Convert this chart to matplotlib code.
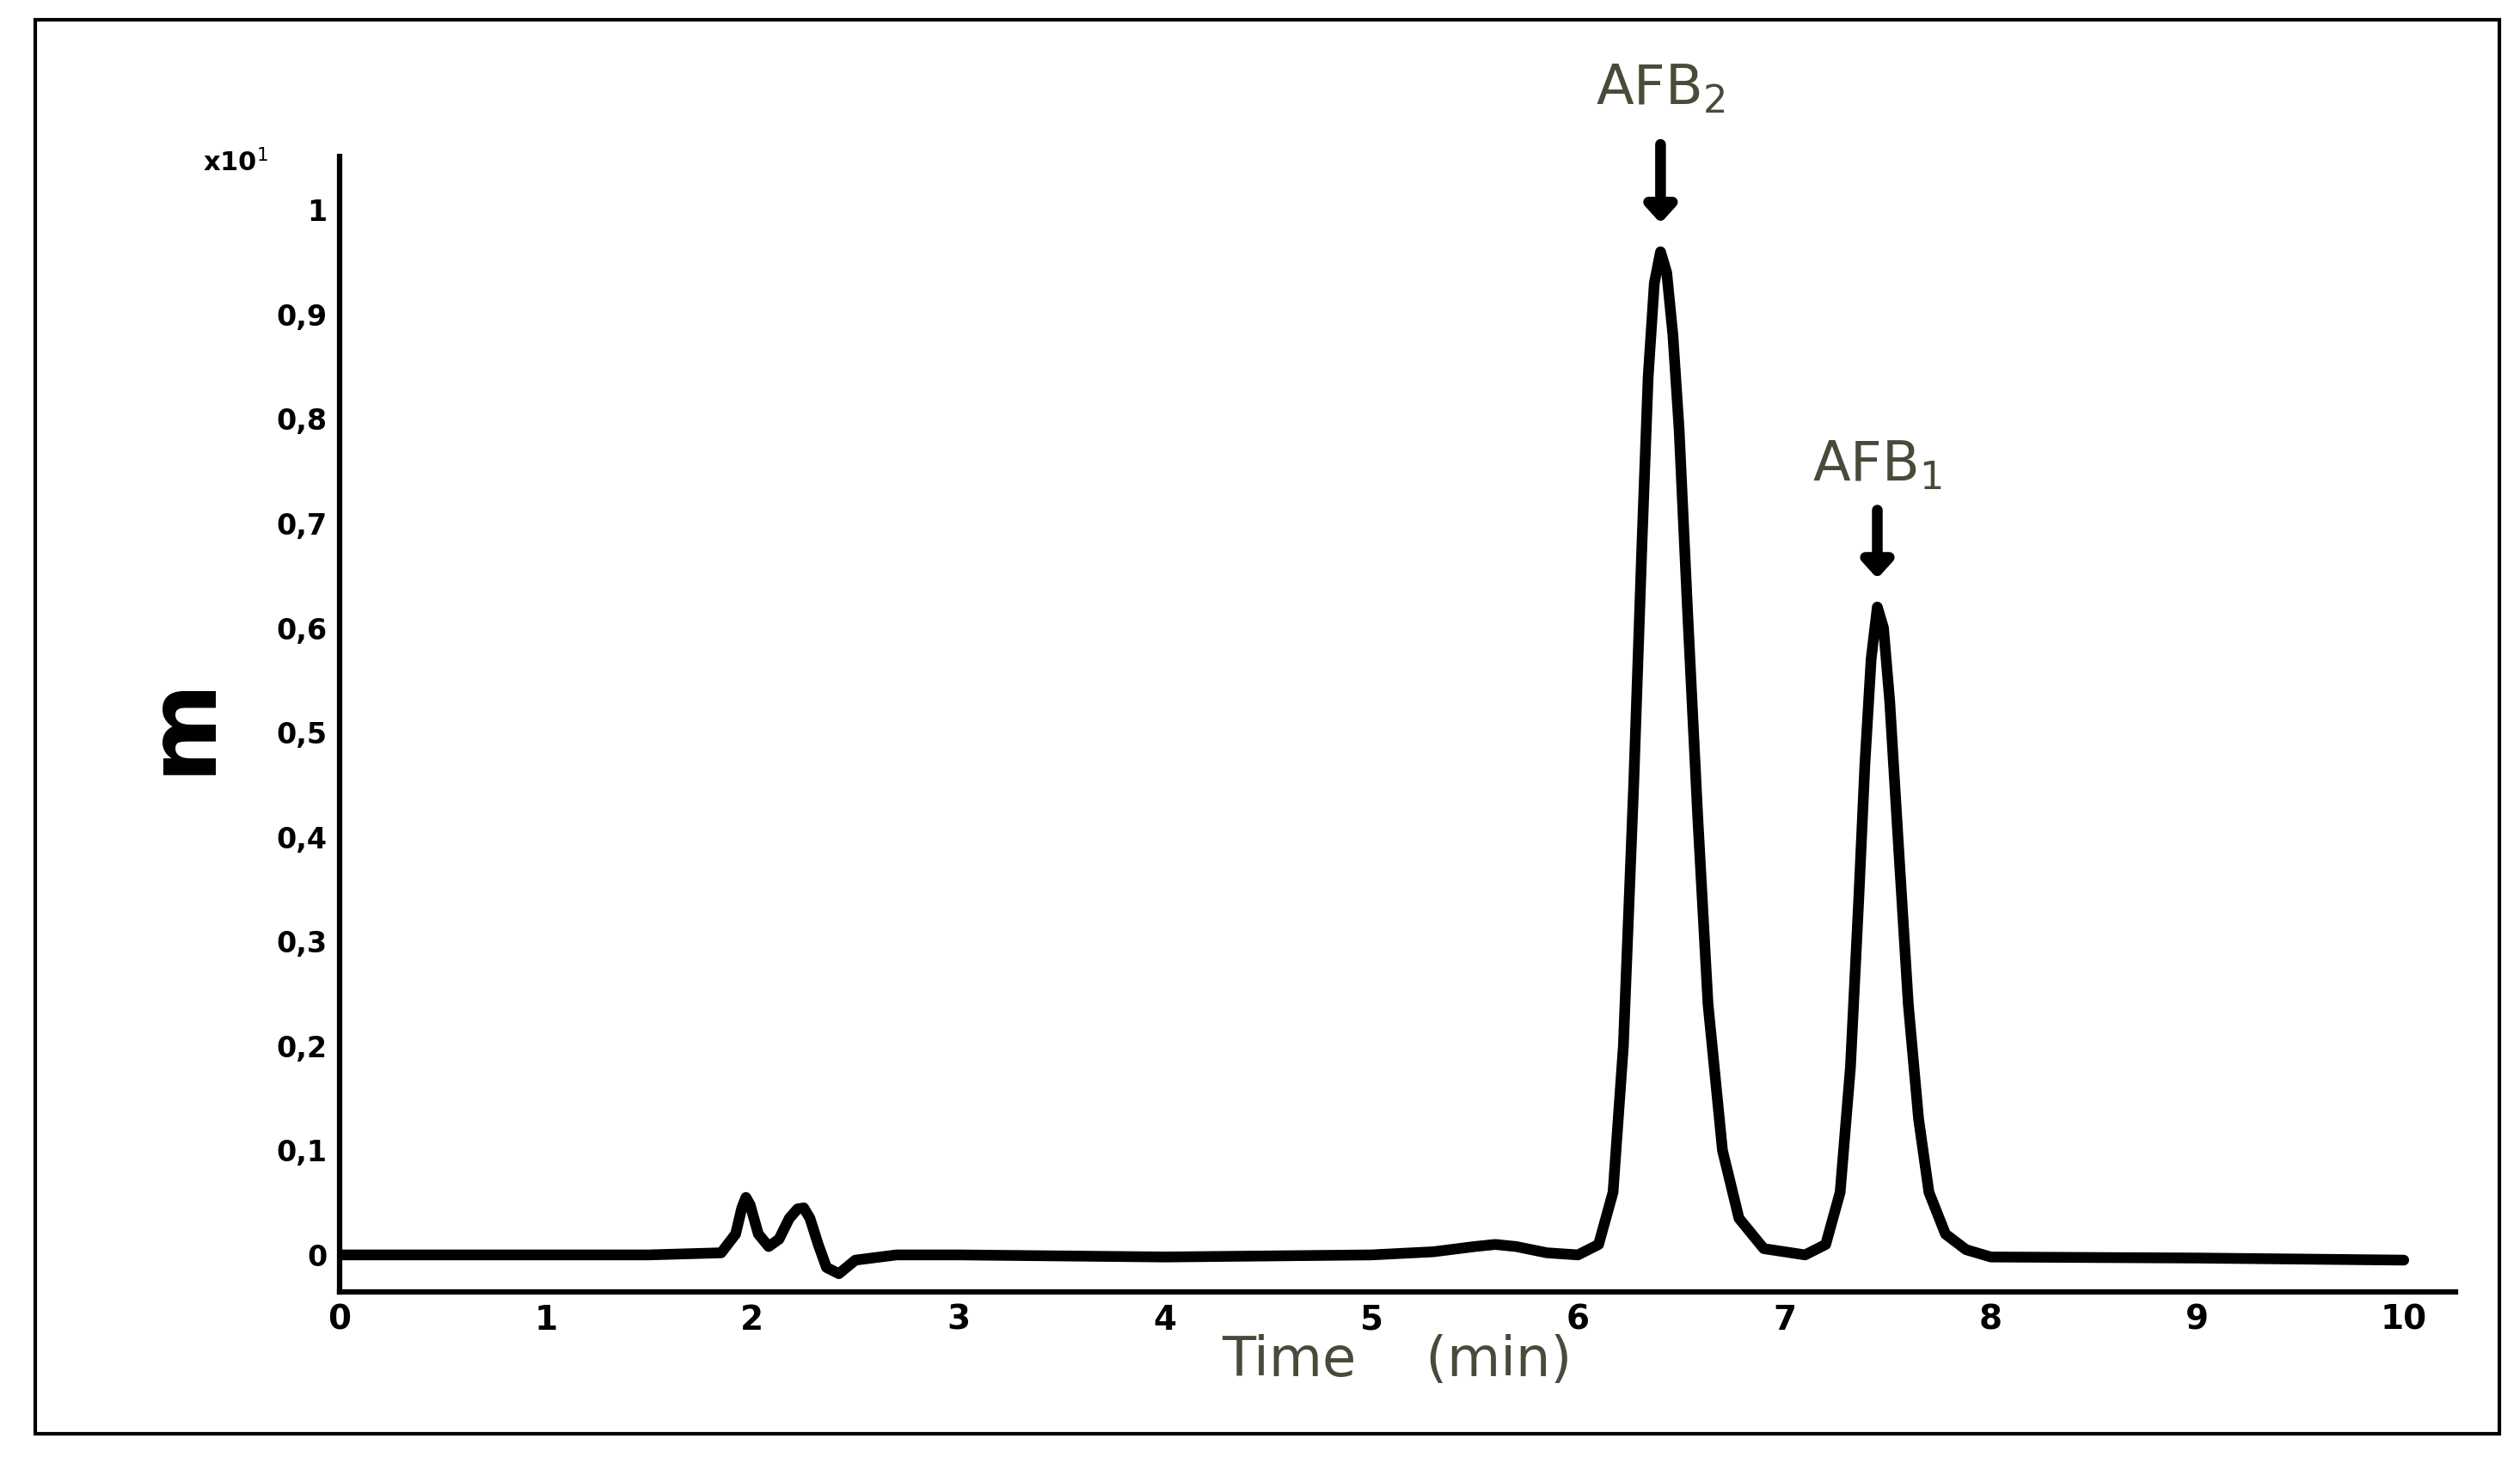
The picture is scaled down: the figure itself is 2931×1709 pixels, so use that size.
import matplotlib
matplotlib.use("Agg")
import matplotlib.pyplot as plt
from matplotlib.patches import Rectangle

time = [0.0, 0.5, 1.0, 1.5, 1.85, 1.92, 1.95, 1.97, 1.99, 2.03, 2.08, 2.13, 2.18, 2.22, 2.25, 2.28, 2.32, 2.36, 2.42, 2.5, 2.7, 3.0,
        4.0, 5.0, 5.3, 5.5, 5.6, 5.7, 5.85, 6.0, 6.1, 6.17, 6.22, 6.27, 6.31, 6.34, 6.37, 6.4, 6.43, 6.46, 6.49, 6.53,
        6.58, 6.63, 6.7, 6.78, 6.9, 7.1, 7.2, 7.27, 7.32, 7.36, 7.39, 7.42, 7.45, 7.48, 7.51, 7.55, 7.6, 7.65, 7.7,
        7.78, 7.88, 8.0, 9.0, 10.0]
signal = [0.0, 0.0, 0.0, 0.0, 0.002, 0.02, 0.045, 0.055, 0.048, 0.02, 0.008, 0.015, 0.035, 0.044, 0.045, 0.035, 0.01, -0.012, -0.018, -0.005, 0.0, 0.0,
          -0.002, 0.0, 0.003, 0.008, 0.01, 0.008, 0.002, 0.0, 0.01, 0.06, 0.2, 0.45, 0.68, 0.84, 0.93, 0.96, 0.94, 0.88, 0.79, 0.62,
          0.42, 0.24, 0.1, 0.035, 0.006, 0.0, 0.01, 0.06, 0.18, 0.34, 0.47, 0.57, 0.62, 0.6, 0.53, 0.4, 0.24, 0.13, 0.06,
          0.02, 0.005, -0.002, -0.003, -0.005]
yticks = [0, 0.1, 0.2, 0.3, 0.4, 0.5, 0.6, 0.7, 0.8, 0.9, 1.0]
ytick_labels = ["0", "0,1", "0,2", "0,3", "0,4", "0,5", "0,6", "0,7", "0,8", "0,9", "1"]
xticks = list(range(11))

fig = plt.figure(figsize=(29.31, 17.09), dpi=100)
fig.patches.append(Rectangle((22/1560, 1-888/909.6), (1547-22)/1560, (888-12)/909.6,
                             transform=fig.transFigure, fill=False, lw=3, ec="black"))
ax = fig.add_axes([210/1560, 1-800/909.6, (1520-210)/1560, (800-97)/909.6])
ax.plot(time, signal, color="black", lw=9, solid_joinstyle="round", solid_capstyle="round")
ax.set_xlim(0, 10.25)
ax.set_ylim(-0.0355, 1.051)
for s in ["top", "right"]:
    ax.spines[s].set_visible(False)
for s in ["left", "bottom"]:
    ax.spines[s].set_linewidth(4.5)
ax.set_yticks(yticks)
ax.set_yticklabels(ytick_labels, fontsize=24, fontweight="bold")
ax.set_xticks(xticks)
ax.set_xticklabels([str(x) for x in xticks], fontsize=28, fontweight="bold")
ax.tick_params(length=0, pad=10)
ax.text(-0.5, 1.045, "x10$^{1}$", fontsize=22, fontweight="bold", ha="center", va="center")
ax.set_xlabel("Time    (min)", fontsize=46, color="#4a4a3a", labelpad=-2)
ax.set_ylabel("m", fontsize=80, fontweight="bold", rotation=90, labelpad=40)
col = "#4a4a3a"
ax.annotate("", xy=(6.4, 0.985), xytext=(6.4, 1.065),
            arrowprops=dict(arrowstyle="-|>,head_width=1.0,head_length=1.1", lw=9, color="black"), annotation_clip=False)
ax.text(6.4, 1.09, "AFB$_2$", fontsize=46, color=col, ha="center", va="bottom")
ax.annotate("", xy=(7.45, 0.645), xytext=(7.45, 0.715),
            arrowprops=dict(arrowstyle="-|>,head_width=1.0,head_length=1.1", lw=9, color="black"))
ax.text(7.45, 0.73, "AFB$_1$", fontsize=46, color=col, ha="center", va="bottom")
fig.savefig("out.png", dpi=100)
